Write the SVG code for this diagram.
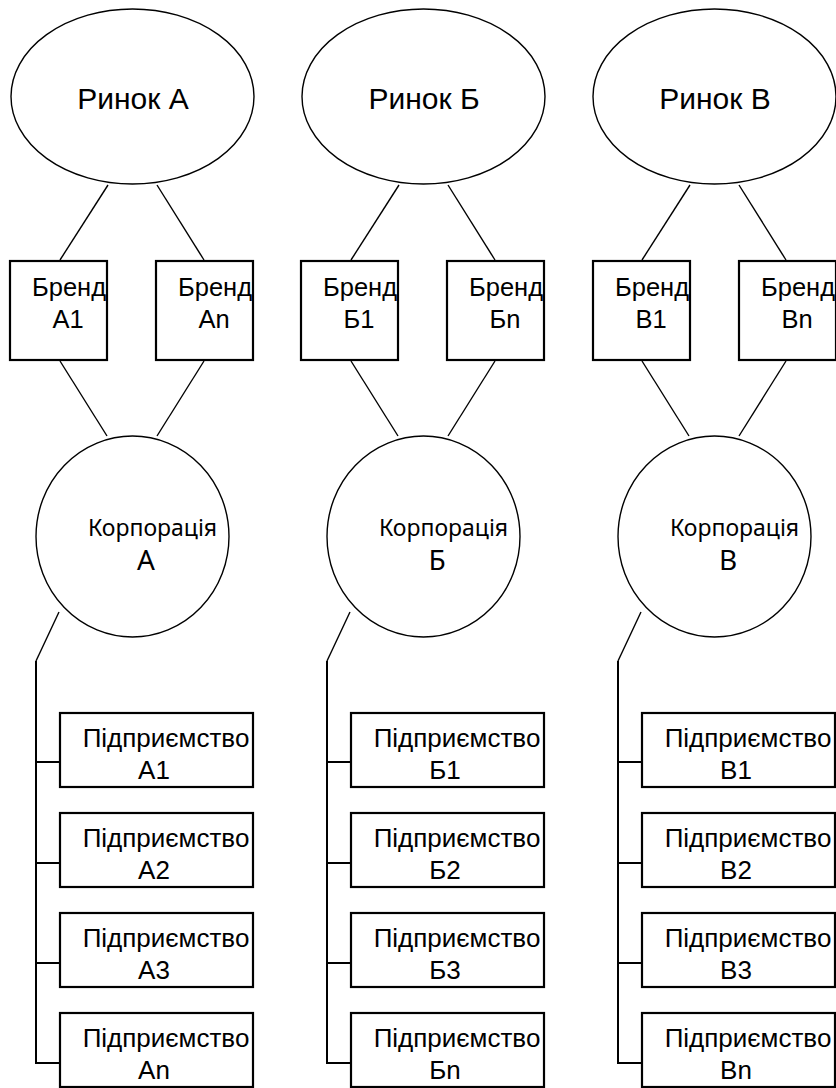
<svg xmlns="http://www.w3.org/2000/svg" width="836" height="1088" viewBox="0 0 836 1088">
<style>
.bg{fill:#fff}
.ell{fill:#fff;stroke:#000;stroke-width:1.4}
.box{fill:#fff;stroke:#000;stroke-width:2.2}
.ln{stroke:#000;stroke-width:1.4;fill:none}
.tr{stroke:#000;stroke-width:2;fill:none}
.t{font-family:"Liberation Sans",Arial,sans-serif;fill:#000;text-anchor:middle}
.mk{font-size:30px}
.br{font-size:25.5px}
.en{font-size:26px}
.cp{font-family:"Noto Sans","DejaVu Sans",sans-serif;fill:#000;text-anchor:middle}
.cp1{font-size:23px}
.cp2{font-size:28px}
</style>
<rect class="bg" x="0" y="0" width="836" height="1088"/>
<g id="connectors">
<g id="conn-A">
<line class="ln" x1="108" y1="185" x2="60" y2="260"/>
<line class="ln" x1="157" y1="185" x2="204" y2="260"/>
<line class="ln" x1="60" y1="361" x2="107" y2="436"/>
<line class="ln" x1="204" y1="361" x2="157" y2="436"/>
<line class="ln" x1="59" y1="612" x2="36" y2="661"/>
<polyline class="tr" points="36,661 36,1063 60,1063"/>
<line class="tr" x1="36" y1="762" x2="60" y2="762"/>
<line class="tr" x1="36" y1="863" x2="60" y2="863"/>
<line class="tr" x1="36" y1="963" x2="60" y2="963"/>
</g>
<g id="conn-B" transform="translate(291,0)">
<line class="ln" x1="108" y1="185" x2="60" y2="260"/>
<line class="ln" x1="157" y1="185" x2="204" y2="260"/>
<line class="ln" x1="60" y1="361" x2="107" y2="436"/>
<line class="ln" x1="204" y1="361" x2="157" y2="436"/>
<line class="ln" x1="59" y1="612" x2="36" y2="661"/>
<polyline class="tr" points="36,661 36,1063 60,1063"/>
<line class="tr" x1="36" y1="762" x2="60" y2="762"/>
<line class="tr" x1="36" y1="863" x2="60" y2="863"/>
<line class="tr" x1="36" y1="963" x2="60" y2="963"/>
</g>
<g id="conn-C" transform="translate(582,0)">
<line class="ln" x1="108" y1="185" x2="60" y2="260"/>
<line class="ln" x1="157" y1="185" x2="204" y2="260"/>
<line class="ln" x1="60" y1="361" x2="107" y2="436"/>
<line class="ln" x1="204" y1="361" x2="157" y2="436"/>
<line class="ln" x1="59" y1="612" x2="36" y2="661"/>
<polyline class="tr" points="36,661 36,1063 60,1063"/>
<line class="tr" x1="36" y1="762" x2="60" y2="762"/>
<line class="tr" x1="36" y1="863" x2="60" y2="863"/>
<line class="tr" x1="36" y1="963" x2="60" y2="963"/>
</g>
</g>

<g id="market-A"><ellipse class="ell" cx="132.5" cy="96.5" rx="121.5" ry="87.5"/><text class="t mk" x="133" y="109">Ринок А</text></g>
<g id="market-B"><ellipse class="ell" cx="423.5" cy="96.5" rx="121.5" ry="87.5"/><text class="t mk" x="424" y="109">Ринок Б</text></g>
<g id="market-C"><ellipse class="ell" cx="714.5" cy="96.5" rx="121.5" ry="87.5"/><text class="t mk" x="715" y="109">Ринок В</text></g>

<g id="brand-A1"><rect class="box" x="10" y="261" width="97" height="99"/><text class="t br" x="69" y="296">Бренд</text><text class="t br" x="68" y="328">А1</text></g>
<g id="brand-An"><rect class="box" x="156" y="261" width="97" height="99"/><text class="t br" x="215" y="296">Бренд</text><text class="t br" x="214" y="328">Аn</text></g>
<g id="brand-B1"><rect class="box" x="301" y="261" width="97" height="99"/><text class="t br" x="360" y="296">Бренд</text><text class="t br" x="359" y="328">Б1</text></g>
<g id="brand-Bn"><rect class="box" x="447" y="261" width="97" height="99"/><text class="t br" x="506" y="296">Бренд</text><text class="t br" x="505" y="328">Бn</text></g>
<g id="brand-C1"><rect class="box" x="593" y="261" width="97" height="99"/><text class="t br" x="652" y="296">Бренд</text><text class="t br" x="651" y="328">В1</text></g>
<g id="brand-Cn"><rect class="box" x="739" y="261" width="97" height="99"/><text class="t br" x="798" y="296">Бренд</text><text class="t br" x="797" y="328">Вn</text></g>

<g id="corp-A"><ellipse class="ell" cx="132.5" cy="536.5" rx="96.5" ry="100.5"/><text class="cp cp1" x="152.5" y="536">Корпорація</text><text class="cp cp2" x="146" y="570">А</text></g>
<g id="corp-B"><ellipse class="ell" cx="423.5" cy="536.5" rx="96.5" ry="100.5"/><text class="cp cp1" x="443.5" y="536">Корпорація</text><text class="cp cp2" x="437" y="570">Б</text></g>
<g id="corp-C"><ellipse class="ell" cx="714.5" cy="536.5" rx="96.5" ry="100.5"/><text class="cp cp1" x="734.5" y="536">Корпорація</text><text class="cp cp2" x="728" y="570">В</text></g>

<g id="ent-A1"><rect class="box" x="60" y="713" width="193" height="74"/><text class="t en" x="166" y="747">Підприємство</text><text class="t en" x="154" y="779">А1</text></g>
<g id="ent-A2"><rect class="box" x="60" y="813" width="193" height="74"/><text class="t en" x="166" y="847">Підприємство</text><text class="t en" x="154" y="879">А2</text></g>
<g id="ent-A3"><rect class="box" x="60" y="913" width="193" height="74"/><text class="t en" x="166" y="947">Підприємство</text><text class="t en" x="154" y="979">А3</text></g>
<g id="ent-An"><rect class="box" x="60" y="1013" width="193" height="74"/><text class="t en" x="166" y="1047">Підприємство</text><text class="t en" x="154" y="1079">Аn</text></g>

<g id="ent-B1"><rect class="box" x="351" y="713" width="193" height="74"/><text class="t en" x="457" y="747">Підприємство</text><text class="t en" x="445" y="779">Б1</text></g>
<g id="ent-B2"><rect class="box" x="351" y="813" width="193" height="74"/><text class="t en" x="457" y="847">Підприємство</text><text class="t en" x="445" y="879">Б2</text></g>
<g id="ent-B3"><rect class="box" x="351" y="913" width="193" height="74"/><text class="t en" x="457" y="947">Підприємство</text><text class="t en" x="445" y="979">Б3</text></g>
<g id="ent-Bn"><rect class="box" x="351" y="1013" width="193" height="74"/><text class="t en" x="457" y="1047">Підприємство</text><text class="t en" x="445" y="1079">Бn</text></g>

<g id="ent-C1"><rect class="box" x="642" y="713" width="193" height="74"/><text class="t en" x="748" y="747">Підприємство</text><text class="t en" x="736" y="779">В1</text></g>
<g id="ent-C2"><rect class="box" x="642" y="813" width="193" height="74"/><text class="t en" x="748" y="847">Підприємство</text><text class="t en" x="736" y="879">В2</text></g>
<g id="ent-C3"><rect class="box" x="642" y="913" width="193" height="74"/><text class="t en" x="748" y="947">Підприємство</text><text class="t en" x="736" y="979">В3</text></g>
<g id="ent-Cn"><rect class="box" x="642" y="1013" width="193" height="74"/><text class="t en" x="748" y="1047">Підприємство</text><text class="t en" x="736" y="1079">Вn</text></g>
</svg>
